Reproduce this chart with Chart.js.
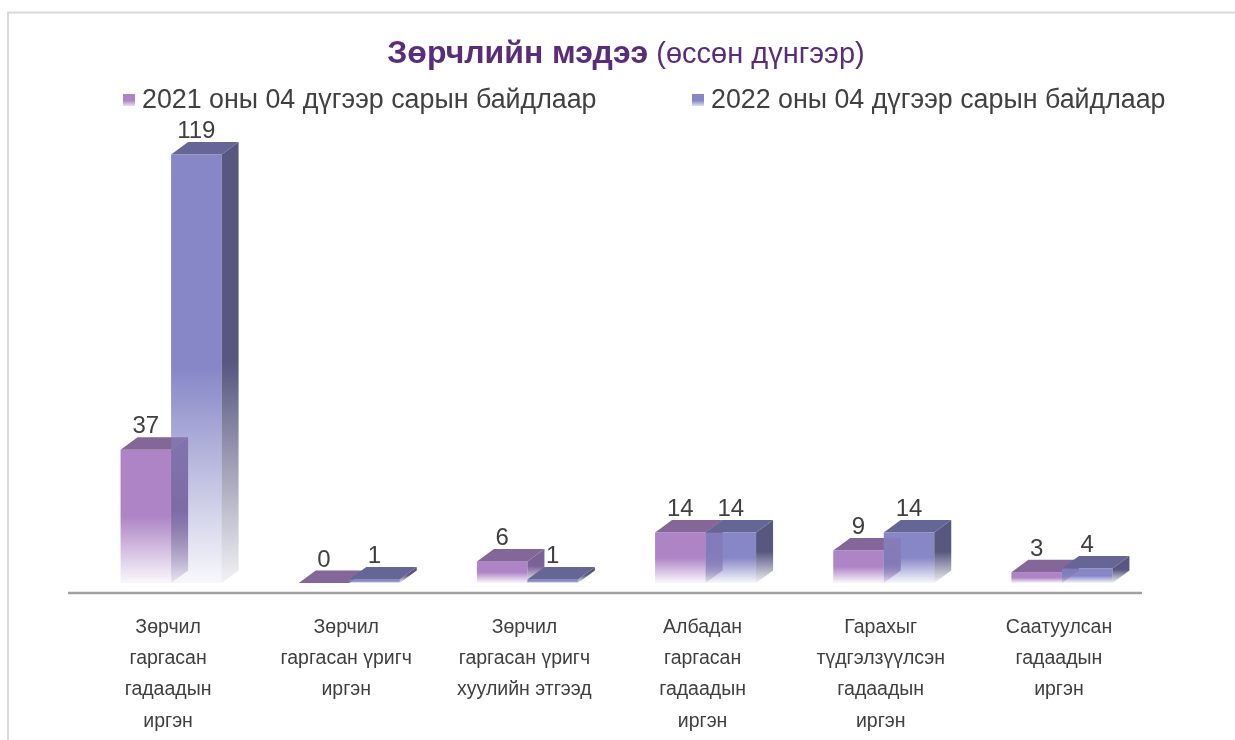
<!DOCTYPE html>
<html>
<head>
<meta charset="utf-8">
<script src="https://cdn.jsdelivr.net/npm/chart.js@4.4.1/dist/chart.umd.min.js"></script>
<style>
  html, body { margin: 0; padding: 0; background: #ffffff; }
  #wrap { width: 1235px; height: 740px; position: relative; }
</style>
</head>
<body>
<div id="wrap"><canvas id="c" width="1235" height="740"></canvas></div>
<script>
// ---- data ----
const categories = [
  ["Зөрчил", "гаргасан", "гадаадын", "иргэн"],
  ["Зөрчил", "гаргасан үригч", "иргэн"],
  ["Зөрчил", "гаргасан үригч", "хуулийн этгээд"],
  ["Албадан", "гаргасан", "гадаадын", "иргэн"],
  ["Гарахыг", "түдгэлзүүлсэн", "гадаадын", "иргэн"],
  ["Саатуулсан", "гадаадын", "иргэн"]
];
const seriesNames = ["2021 оны 04 дүгээр сарын байдлаар", "2022 оны 04 дүгээр сарын байдлаар"];
const values2021 = [37, 0, 6, 14, 9, 3];
const values2022 = [119, 1, 1, 14, 14, 4];
const titleBold = "Зөрчлийн мэдээ";
const titleNormal = " (өссөн дүнгээр)";

// ---- styles ----
const palette = [
  { front: [174, 132, 198], top: [132, 103, 152], side: [122, 97, 152] },
  { front: [135, 135, 199], top: [102, 102, 150], side: [87, 87, 128] }
];
const DX = 17, DY = 12.5;
const FONT = "'Liberation Sans', Arial, sans-serif";
const TEXT = "#404040";

function rgba(c, a) { return `rgba(${c[0]},${c[1]},${c[2]},${a})`; }

function drawBar(ctx, el, pal, faces) {
  const w = el.width;
  const L = el.x - w / 2, R = el.x + w / 2;
  const top = Math.min(el.y, el.base), base = Math.max(el.y, el.base);
  const h = base - top;
  if (faces.front) {
    if (h > 0.2) {
      const g = ctx.createLinearGradient(0, top, 0, base);
      g.addColorStop(0, rgba(pal.front, 1));
      g.addColorStop(0.5, rgba(pal.front, 1));
      g.addColorStop(1, rgba(pal.front, 0.06));
      ctx.fillStyle = g;
      ctx.fillRect(L, top, w, h);
    }
  }
  if (faces.side) {
    ctx.beginPath();
    ctx.moveTo(R, top);
    ctx.lineTo(R + DX, top - DY);
    ctx.lineTo(R + DX, base - DY);
    ctx.lineTo(R, base);
    ctx.closePath();
    if (h > 0.2) {
      const g = ctx.createLinearGradient(0, top - DY, 0, base);
      g.addColorStop(0, rgba(pal.side, 1));
      g.addColorStop(0.5, rgba(pal.side, 1));
      g.addColorStop(1, rgba(pal.side, 0.08));
      ctx.fillStyle = g;
    } else {
      ctx.fillStyle = rgba(pal.side, 1);
    }
    ctx.fill();
  }
  if (faces.top) {
    ctx.beginPath();
    ctx.moveTo(L, top);
    ctx.lineTo(L + DX, top - DY);
    ctx.lineTo(R + DX, top - DY);
    ctx.lineTo(R, top);
    ctx.closePath();
    ctx.fillStyle = rgba(pal.top, 1);
    ctx.fill();
  }
}

const threeD = {
  id: 'threeD',
  beforeDraw(chart) {
    const ctx = chart.ctx;
    ctx.save();
    ctx.fillStyle = '#ffffff';
    ctx.fillRect(0, 0, chart.width, chart.height);
    // frame
    ctx.strokeStyle = '#d9d9d9';
    ctx.lineWidth = 2;
    ctx.beginPath();
    ctx.moveTo(8, 741);
    ctx.lineTo(8, 12.5);
    ctx.lineTo(1236, 12.5);
    ctx.stroke();
    // title
    ctx.textBaseline = 'alphabetic';
    ctx.font = `bold 32px ${FONT}`;
    const wb = ctx.measureText(titleBold).width;
    ctx.font = `29px ${FONT}`;
    const wn = ctx.measureText(titleNormal).width;
    const tx = 626 - (wb + wn) / 2;
    ctx.fillStyle = '#5a2d7a';
    ctx.font = `bold 32px ${FONT}`;
    ctx.textAlign = 'left';
    ctx.fillText(titleBold, tx, 63);
    ctx.font = `29px ${FONT}`;
    ctx.fillText(titleNormal, tx + wb, 63);
    // legend
    const lx = [123, 692];
    ctx.font = `26.8px ${FONT}`;
    ctx.textBaseline = 'middle';
    chart.data.datasets.forEach((ds, i) => {
      const pal = palette[i];
      const g = ctx.createLinearGradient(0, 94, 0, 106);
      g.addColorStop(0, rgba(pal.front, 1));
      g.addColorStop(0.55, rgba(pal.front, 1));
      g.addColorStop(1, rgba(pal.front, 0.25));
      ctx.fillStyle = g;
      ctx.fillRect(lx[i], 94, 12, 12);
      ctx.fillStyle = TEXT;
      ctx.fillText(ds.label, lx[i] + 19, 101);
    });
    // axis line
    const ca = chart.chartArea;
    ctx.strokeStyle = '#a0a0a0';
    ctx.lineWidth = 2.5;
    ctx.beginPath();
    ctx.moveTo(ca.left - 14, ca.bottom + 10);
    ctx.lineTo(ca.right - 9, ca.bottom + 10);
    ctx.stroke();
    ctx.restore();
  },
  afterDatasetsDraw(chart) {
    const ctx = chart.ctx;
    const m0 = chart.getDatasetMeta(0).data;
    const m1 = chart.getDatasetMeta(1).data;
    ctx.save();
    for (let i = 0; i < m0.length; i++) {
      drawBar(ctx, m0[i], palette[0], { front: true, side: true, top: true });
      drawBar(ctx, m1[i], palette[1], { front: true, side: true, top: true });
      const el = m1[i];
      const L = el.x - el.width / 2, R = el.x + el.width / 2;
      const t = Math.min(el.y, el.base), b = Math.max(el.y, el.base);
      if (b - t > 1) {
        ctx.save();
        ctx.beginPath();
        ctx.rect(L, t, R - L, b - t);
        ctx.clip();
        ctx.globalAlpha = 0.3;
        drawBar(ctx, m0[i], palette[0], { front: false, side: true, top: true });
        ctx.restore();
      }
    }
    // value labels
    ctx.font = `24px ${FONT}`;
    ctx.fillStyle = TEXT;
    ctx.textAlign = 'center';
    ctx.textBaseline = 'alphabetic';
    [m0, m1].forEach((meta, di) => {
      const vals = chart.data.datasets[di].data;
      meta.forEach((el, i) => {
        const top = Math.min(el.y, el.base);
        ctx.fillText(String(vals[i]), el.x, top - DY - 4);
      });
    });
    ctx.restore();
  }
};

new Chart(document.getElementById('c'), {
  type: 'bar',
  data: {
    labels: categories,
    datasets: [
      { label: seriesNames[0], data: values2021, backgroundColor: 'rgba(0,0,0,0)', borderWidth: 0 },
      { label: seriesNames[1], data: values2022, backgroundColor: 'rgba(0,0,0,0)', borderWidth: 0 }
    ]
  },
  options: {
    responsive: false,
    animation: false,
    events: [],
    layout: { padding: { left: 82, right: 84, top: 133, bottom: 0 } },
    categoryPercentage: 0.567,
    barPercentage: 1.0,
    plugins: { legend: { display: false }, title: { display: false }, tooltip: { enabled: false } },
    scales: {
      x: {
        grid: { display: false, drawTicks: false, tickLength: 0 },
        border: { display: false },
        ticks: {
          color: TEXT,
          font: { family: FONT, size: 19.5, lineHeight: 1.6 },
          padding: 29,
          labelOffset: -3,
          maxRotation: 0,
          autoSkip: false
        },
        afterFit(scale) { scale.height = 157; }
      },
      y: { display: false, min: 0, max: 125 }
    }
  },
  plugins: [threeD]
});
</script>
</body>
</html>
